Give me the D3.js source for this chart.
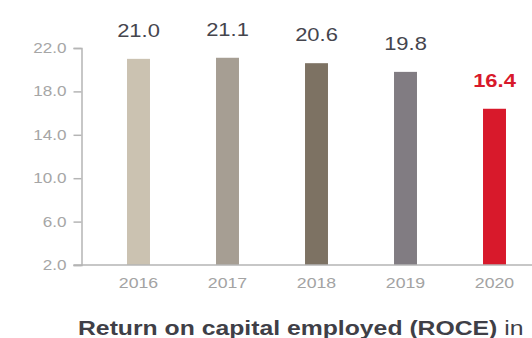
<!DOCTYPE html>
<html>
<head>
<meta charset="utf-8">
<script src="https://cdn.jsdelivr.net/npm/d3@7"></script>
<style>
  html, body { margin: 0; padding: 0; background: #fff; }
  svg { display: block; font-family: "Liberation Sans", Arial, Helvetica, sans-serif; }
</style>
</head>
<body>
<svg id="chart" width="532" height="338"></svg>
<script>
// ROCE by year
const years = ["2016", "2017", "2018", "2019", "2020"];
const roce = [21.0, 21.1, 20.6, 19.8, 16.4];
const barColors = ["#cbc2b1", "#a69e93", "#7d7263", "#817c82", "#d8192b"];
const yTicks = [2, 6, 10, 14, 18, 22];

const svg = d3.select("#chart");
const axisColor = "#b5b5b5";
const y0 = 265, yTop = 48, axisX = 81.5;
const wide = 1.22; // horizontal stretch of the lettering

// move a text's x into a transform so the glyphs can be widened around their anchor
function widen(sel) {
  sel.each(function () {
    const t = d3.select(this);
    const tx = +t.attr("x") || 0;
    t.attr("x", 0).attr("transform", `translate(${tx},0) scale(${wide},1)`);
  });
}

const x = d3.scaleBand()
  .domain(years)
  .range([94, 539])
  .paddingInner(0.742)
  .paddingOuter(0.371);

const y = d3.scaleLinear().domain([2, 22]).range([y0, yTop]);

// bars
svg.append("g").selectAll("rect")
  .data(years)
  .join("rect")
  .attr("x", d => x(d))
  .attr("width", x.bandwidth())
  .attr("y", (d, i) => y(roce[i]))
  .attr("height", (d, i) => y0 - y(roce[i]))
  .attr("fill", (d, i) => barColors[i]);

// y axis
const yAxis = svg.append("g")
  .attr("transform", `translate(${axisX},0)`)
  .call(d3.axisLeft(y).tickValues(yTicks).tickFormat(d3.format(".1f")).tickSize(8).tickPadding(7));
yAxis.select(".domain").attr("stroke", axisColor).attr("stroke-width", 1.5);
yAxis.selectAll(".tick line").attr("stroke", axisColor).attr("stroke-width", 1.5);
yAxis.selectAll(".tick text")
  .attr("fill", "#a6a6a6")
  .style("font-size", "14px")
  .call(widen);

// x baseline and year labels
const xAxis = svg.append("g")
  .attr("transform", `translate(0,${y0})`)
  .call(d3.axisBottom(x).tickSize(0).tickPadding(13));
xAxis.select(".domain").remove();
xAxis.append("line")
  .attr("x1", axisX - 8).attr("x2", 532)
  .attr("stroke", axisColor).attr("stroke-width", 1.5);
xAxis.selectAll(".tick text")
  .attr("fill", "#a3a3a3")
  .style("font-size", "14.5px")
  .call(widen);

// value labels
svg.append("g").selectAll("g")
  .data(years)
  .join("g")
  .attr("transform", (d, i) => `translate(0,${y(roce[i]) - 22})`)
  .append("text")
  .attr("x", d => x(d) + x.bandwidth() / 2)
  .attr("text-anchor", "middle")
  .attr("fill", (d, i) => i === years.length - 1 ? "#d8192b" : "#45454d")
  .style("font-size", "18px")
  .style("font-weight", (d, i) => i === years.length - 1 ? "bold" : "normal")
  .text((d, i) => d3.format(".1f")(roce[i]))
  .call(widen);

// caption
const cap = svg.append("text")
  .attr("x", 78)
  .attr("y", 335)
  .attr("fill", "#3f3f47")
  .style("font-size", "20.3px");
cap.append("tspan").style("font-weight", "bold").text("Return on capital employed (ROCE)");
cap.append("tspan").text(" in");
cap.call(widen);
</script>
</body>
</html>
